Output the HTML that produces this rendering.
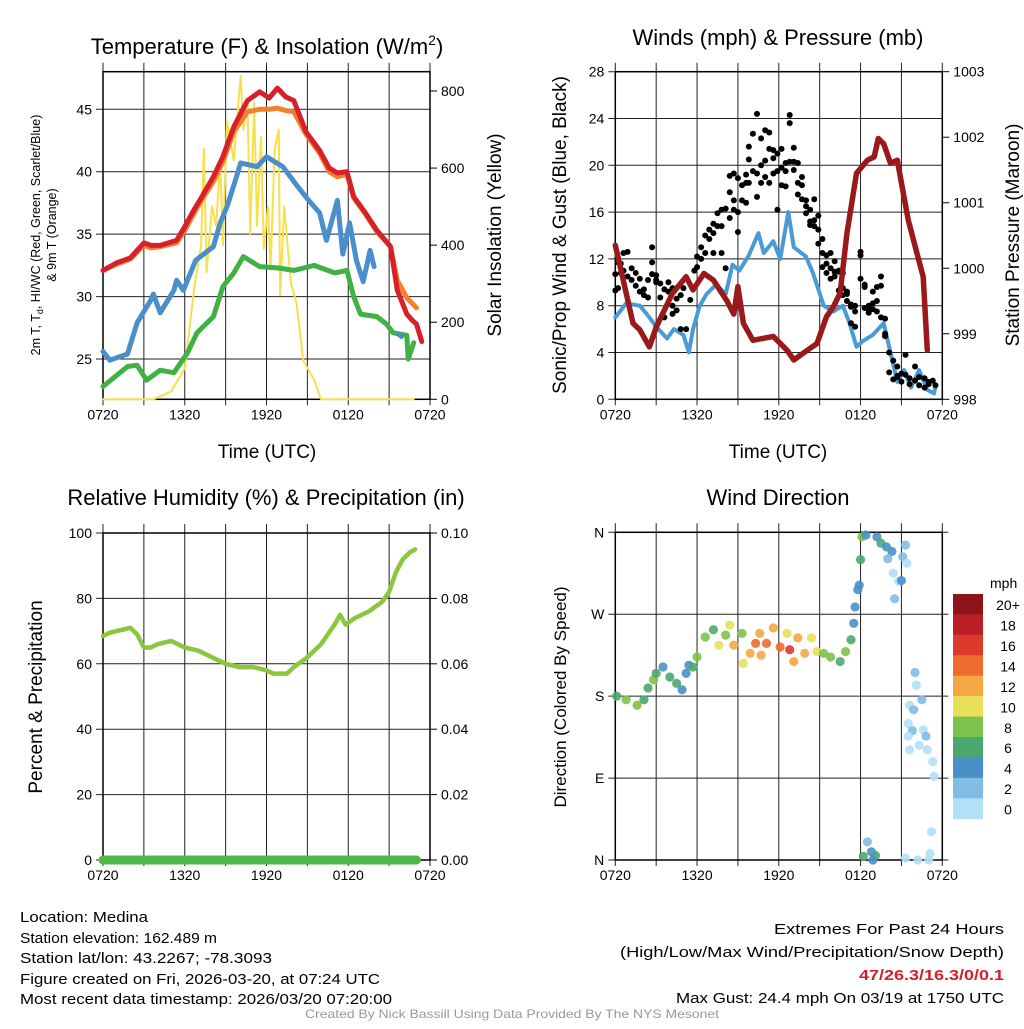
<!DOCTYPE html>
<html><head><meta charset="utf-8"><style>
html,body{margin:0;padding:0;background:#fff;}
svg text{font-family:"Liberation Sans",sans-serif;fill:#000;}
</style></head><body>
<svg id="chart" width="1024" height="1024" viewBox="0 0 1024 1024" xmlns="http://www.w3.org/2000/svg">
<g id="layer"></g>
<text x="267" y="54" font-size="22" text-anchor="middle">Temperature (F) &amp; Insolation (W/m<tspan dy="-9" font-size="14">2</tspan><tspan dy="9">)</tspan></text>
<text x="778" y="45" font-size="22" text-anchor="middle">Winds (mph) &amp; Pressure (mb)</text>
<text x="266" y="505" font-size="22" text-anchor="middle">Relative Humidity (%) &amp; Precipitation (in)</text>
<text x="778" y="505" font-size="22" text-anchor="middle">Wind Direction</text>
<text transform="translate(40,235) rotate(-90)" font-size="12.5" text-anchor="middle">2m T, T<tspan dy="3" font-size="9">d</tspan><tspan dy="-3">, HI/WC (Red, Green, Scarlet/Blue)</tspan></text>
<text transform="translate(56,235) rotate(-90)" font-size="12.5" text-anchor="middle">&amp; 9m T (Orange)</text>
<text transform="translate(501,235) rotate(-90)" font-size="19" text-anchor="middle">Solar Insolation (Yellow)</text>
<text x="267" y="458" font-size="19" text-anchor="middle">Time (UTC)</text>
<text transform="translate(566,235) rotate(-90)" font-size="19" text-anchor="middle">Sonic/Prop Wind &amp; Gust (Blue, Black)</text>
<text transform="translate(1019,235) rotate(-90)" font-size="19" text-anchor="middle">Station Pressure (Maroon)</text>
<text x="778" y="458" font-size="19" text-anchor="middle">Time (UTC)</text>
<text transform="translate(42,697) rotate(-90)" font-size="19" text-anchor="middle">Percent &amp; Precipitation</text>
<text transform="translate(566,697) rotate(-90)" font-size="17" text-anchor="middle">Direction (Colored By Speed)</text>
<text x="990" y="588" font-size="14">mph</text>
<g font-size="15">
<text x="20" y="922" textLength="128" lengthAdjust="spacingAndGlyphs">Location: Medina</text>
<text x="20" y="943" textLength="197" lengthAdjust="spacingAndGlyphs">Station elevation: 162.489 m</text>
<text x="20" y="963" textLength="252" lengthAdjust="spacingAndGlyphs">Station lat/lon: 43.2267; -78.3093</text>
<text x="20" y="984" textLength="360" lengthAdjust="spacingAndGlyphs">Figure created on Fri, 2026-03-20, at 07:24 UTC</text>
<text x="20" y="1004" textLength="372" lengthAdjust="spacingAndGlyphs">Most recent data timestamp: 2026/03/20 07:20:00</text>
</g>
<g font-size="15">
<text x="1004" y="934" text-anchor="end" textLength="230" lengthAdjust="spacingAndGlyphs">Extremes For Past 24 Hours</text>
<text x="1004" y="957" text-anchor="end" textLength="384" lengthAdjust="spacingAndGlyphs">(High/Low/Max Wind/Precipitation/Snow Depth)</text>
<text x="1004" y="980" text-anchor="end" font-weight="bold" style="fill:#d0212b" textLength="145" lengthAdjust="spacingAndGlyphs">47/26.3/16.3/0/0.1</text>
<text x="1004" y="1003" text-anchor="end" textLength="328" lengthAdjust="spacingAndGlyphs">Max Gust: 24.4 mph On 03/19 at 1750 UTC</text>
</g>
<text x="512" y="1018" font-size="12" text-anchor="middle" style="fill:#999" textLength="414" lengthAdjust="spacingAndGlyphs">Created By Nick Bassill Using Data Provided By The NYS Mesonet</text>
</svg>
<script>
// ---------- data ----------
const timeTicks = ["0720","1320","1920","0120","0720"];
const redHours = [0,1,2,3,3.5,4.2,5.4,6,6.6,7.1,8.1,8.8,9.6,10.6,11.5,12.2,12.8,13.4,14,14.9,15.9,16.6,17.2,17.9,18.4,19.2,20.1,21.1,21.6,22.3,22.7,23.0,23.4];
const redTemps = [32.1,32.7,33.1,34.3,34.1,34.1,34.5,35.6,36.8,37.7,39.6,41.2,43.6,45.7,46.4,45.9,46.7,46.0,45.7,43.2,41.7,40.3,39.9,40.0,38.0,36.8,35.3,34.0,30.5,28.6,28.1,27.8,26.4];
const orangeHours = [0,1,2,3,3.5,4.2,5.4,6,6.6,7.1,8.1,8.8,9.6,10.6,11.5,12.2,12.8,13.4,14,14.9,15.9,16.6,17.2,17.9,18.4,19.2,20.1,21.1,21.6,22.3,23.0];
const orangeTemps = [32.1,32.6,33.0,34.1,33.9,34.0,34.3,35.3,36.5,37.5,39.2,40.8,43.2,44.8,45.0,45.0,45.1,44.9,44.8,43.0,41.5,40.0,39.6,39.8,37.9,36.7,35.2,34.0,31.3,29.9,29.1];
const dewHours = [0,0.5,1.8,2.5,3.5,3.7,4.2,5.2,5.4,5.9,6.8,8.1,8.6,9.1,9.8,10.1,11.3,12.0,13.2,14.3,15.1,15.9,16.4,16.8,17.2,17.6,18.1,18.6,19.1,19.6,19.9];
const dewTemps = [25.6,24.9,25.4,27.9,29.7,30.2,28.7,30.5,31.3,30.5,32.9,34.0,35.9,37.2,39.6,40.7,40.4,41.2,40.4,38.8,37.7,36.7,34.5,36.1,37.7,33.4,35.9,32.9,31.2,33.7,32.4];
const dewHours2 = [21.7,21.9];
const dewTemps2 = [27.0,26.8];
const greenHours = [0,1.8,2.5,3.2,4.2,5.2,6.2,6.9,8.1,8.8,9.6,10.3,11.5,12.8,14,15.5,17.0,17.9,18.4,18.9,20.1,20.8,21.3,22.3,22.4,22.8];
const greenTemps = [22.8,24.4,24.5,23.3,24.1,23.9,25.5,27.1,28.4,30.8,31.9,33.2,32.4,32.3,32.1,32.5,31.9,32.1,30.0,28.6,28.4,27.8,27.1,26.9,25.0,26.3];
const solarHours = [0,3.7,5.0,6.0,6.7,7.2,7.4,7.6,8.0,8.3,8.6,8.8,9.1,9.6,10.1,10.3,10.6,10.8,11.1,11.3,11.6,11.8,12.1,12.3,12.6,12.9,13.0,13.3,13.8,14.2,14.7,15.5,16.0,22.8];
const solarWm2 = [0,0,20,80,290,400,650,330,500,450,620,400,720,620,840,700,780,430,770,450,680,390,500,340,650,700,270,500,300,250,100,50,0,0];
// winds
const windHours = [0,0.8,1.8,2.5,3.0,3.8,4.3,5.0,5.4,5.7,6.2,6.7,7.4,8.1,8.6,9.1,9.8,10.5,10.9,11.6,12.1,12.7,13.1,14.0,14.5,15.3,16.0,16.7,17.2,17.7,18.2,18.9,19.7,20.2,20.7,21.2,21.7,22.3,22.9,23.4,23.5];
const windMph = [7.0,8.2,8.0,7.0,6.2,5.2,6.0,5.5,4.0,6.0,8.0,9.0,9.8,9.0,11.5,11.0,12.3,14.2,12.5,13.5,12.0,16.0,13.0,12.2,10.8,8.0,7.5,8.0,6.5,4.5,5.0,5.5,6.5,4.0,1.5,2.5,1.0,2.5,0.8,0.5,1.2];
const presHours = [0,0.8,1.3,1.8,2.5,3.0,4.2,5.2,5.7,6.5,7.2,8.2,8.7,9.0,9.4,10.1,11.6,12.6,13.1,14.1,14.8,15.5,16.0,16.5,17.0,17.7,18.5,19.0,19.3,19.7,20.2,20.7,21.5,22.2,22.6,22.9];
const presMb = [1000.35,999.62,999.16,999.06,998.8,999.1,999.62,999.87,999.67,999.92,999.82,999.5,999.3,999.72,999.16,998.9,998.96,998.75,998.6,998.75,998.85,999.26,999.41,999.62,1000.53,1001.45,1001.65,1001.7,1001.98,1001.9,1001.6,1001.65,1000.74,1000.18,999.87,998.75];
const gustHours = [0,0.2,0.4,0.6,0.9,1.2,1.5,1.8,2.1,2.4,2.7,3.0,3.3,3.6,3.9,4.2,4.5,4.8,5.0,5.2,5.5,5.8,6.0,6.3,6.6,6.9,7.2,7.5,7.8,8.1,8.4,8.7,9.0,9.3,9.6,9.8,10.1,10.4,10.7,11.0,11.3,11.6,11.9,12.2,12.5,12.8,13.1,13.4,13.7,14.0,14.3,14.6,14.9,15.2,15.5,15.8,16.1,16.4,16.7,17.0,17.3,17.6,18.0,18.3,18.6,18.9,19.2,19.5,19.8,20.1,20.4,20.7,21.0,21.3,21.6,22.0,22.3,22.7,23.0,23.3,23.5];
const gustMph = [[9.3,10.7],[9.5,11.7],[10.8,11.6],[12.5,11.0],[12.6,10.5],[11.2,10.2],[10.8,9.7],[10.3,9.2],[8.9,9.4],[8.7,10.2],[13.0,11.7,10.7],[10.2,10.0,10.6],[9.9,8.7],[7.0,9.4],[10.0,9.2],[8.0,9.5,7.3],[8.6,7.6],[6.0,8.9],[9.5],[6.0],[8.5],[11.0],[11.3,12.2],[12.0,13.0],[14.0,12.5],[14.5,13.7],[15.0,14.2,12.5],[15.9,14.8],[16.2,12.5,14.8],[16.3,11.2],[17.7,19.1,15.5],[19.3,16.2,17.0],[16.0,14.3,18.9],[17.0,18.3],[19.2,16.8,18.5],[21.6,20.5,18.5],[22.7,19.5],[24.4,19.3,17.3],[20.0,18.5,22.3],[23.0,20.4,19.0],[22.8,21.4,18.5],[20.6,19.3,21.3],[21.0,16.2,19.5],[21.4,19.8,18.3],[20.2,19.5,18.2],[24.3,23.6,20.3],[21.5,19.6,20.3],[18.5,17.5,20.2],[19.0,17.1,18.3],[15.9,17.0,16.5],[14.9,16.2,15.2],[17.1,15.3,14.8],[13.3,15.7,14.5],[12.5,13.7,11.3],[12.3,10.8,11.6],[12.5,10.3,11.2],[10.9,11.8,10.5],[10.9,9.3,11.0],[9.5,8.9,10.8],[9.2,8.4,9.0],[6.5,8.1,7.9],[8.0,7.5,6.2],[12.6,12.3,10.3],[9.6,9.8,7.8],[7.6,7.4,8.0],[7.7,8.2,9.2],[8.4,9.6,7.5],[10.5,9.7,7.0],[6.9,5.6,5.4],[4.0,2.3],[1.7,3.3],[2.0,1.9,2.8],[2.2,1.5],[3.8,2.1],[1.8,1.3],[2.8,1.6],[1.9,1.2],[1.8,1.0],[1.5,1.3],[1.6],[1.2]];
// RH & precip
const rhHours = [0,0.5,1,1.5,2,2.5,3,3.5,4,5,5.5,6,7,8,9,10,11,12,12.5,13,13.5,14,15,16,17,17.4,17.8,18.5,19.5,20.5,21,21.5,22,22.5,22.9];
const rhPct = [68.5,69.5,70,70.5,71,69,65,65,66,67,66,65,64,62,60,59,59,58,57,57,57,59,62,66,72,75,72,74,76,79,82,88,92,94,95];
const precipHours = [0,23];
const precipIn = [0,0];
// wind direction
const dirHours = [0.1,0.8,1.6,2.1,2.4,2.8,3.0,3.5,4.0,4.5,4.9,5.2,5.4,5.7,6.0,6.6,7.2,7.6,8.1,8.4,8.7,9.3,9.4,9.9,10.3,10.6,10.7,11.1,11.6,12.1,12.6,12.8,13.1,13.4,13.9,14.4,14.8,15.3,15.8,16.5,16.9,17.3,17.5,17.6,17.8,17.9,18.0,18.1,18.4,19.2,19.5,19.9,20.3,20.0,20.4,20.8,21.0,20.5,21.1,21.3,21.4,18.2,18.5,18.8,19.1,18.9,22.0,22.1,21.6,21.9,22.5,21.5,21.8,21.5,22.3,22.6,22.8,21.6,22.9,23.3,23.4,23.2,23.1,21.3,22.2,23.0];
const dirDeg = [180,176,170,176,189,198,205,212,201,194,187,205,214,212,223,245,253,236,247,258,236,249,216,227,238,249,225,238,255,234,249,231,218,244,227,244,229,227,223,218,229,242,260,278,297,302,330,355,357,355,348,344,339,331,315,306,307,287,333,346,326,4,20,9,5,0,206,192,170,165,176,150,142,136,126,143,136,121,121,108,92,31,7,2,0,0];
const dirSpeed = [7,8,8,7.5,7,8.5,6.5,4.5,6.5,6,4.5,5,4.5,6,8,8.5,7.5,10.5,8,10,12.5,8,10.5,12.5,14,13,12,15,12.5,15,11,16.5,12.5,13,13,10,10.5,8.5,8,6.5,8,7.5,4.5,4.5,4.5,4.5,6.5,8,4.5,4.5,6.5,4.5,4.5,3.5,1,1.5,4,2.5,3.5,3,1,7,3,4,6.5,4,2.5,1,1,3,3,1,2.5,1,1,1,2.5,1,1,1,1,1,1,1,1,1];
const barLabels = ["20+","18","16","14","12","10","8","6","4","2","0"];
const barColors = ["#8e1418","#bd1f27","#dc3a2b","#ef6a2f","#f5a742","#e8e05a","#7dc24b","#4aa86f","#4a90c8","#80bce4","#b3e0f7"];

// ---------- drawing ----------
const NS="http://www.w3.org/2000/svg";
const layer=document.getElementById('layer');
function mk(tag,attrs,parent){const e=document.createElementNS(NS,tag);for(const k in attrs)e.setAttribute(k,attrs[k]);(parent||layer).appendChild(e);return e;}
function lin(d0,d1,r0,r1){return v=>r0+(v-d0)*(r1-r0)/(d1-d0);}
function path(xs,ys,sx,sy){return xs.map((h,i)=>(i?'L':'M')+sx(h).toFixed(1)+','+sy(ys[i]).toFixed(1)).join('');}

function frame(name,L,R,T,B,yticks,ysc,ylabels,rticks,rsc,rlabels){
  const g=mk('g',{});
  
  
  const sx=lin(0,24,L,R);
  for(let i=0;i<=8;i++){const x=sx(i*3);
    const l=mk('line',{x1:x,x2:x,y1:T-9,y2:B+6,stroke:'#222','stroke-width':1},g);
    }
  timeTicks.forEach((t,i)=>{const tx=mk('text',{x:sx(i*6),y:B+20,'font-size':14,'text-anchor':'middle'},g);tx.textContent=t;
    });
  yticks.forEach((v,i)=>{const y=ysc(v);
    const l=mk('line',{x1:L-7,x2:R+(rticks?0:6),y1:y,y2:y,stroke:'#222','stroke-width':1},g);
    
    const tx=mk('text',{x:L-11,y:y+5,'font-size':14,'text-anchor':'end'},g);tx.textContent=ylabels[i];
    });
  if(rticks) rticks.forEach((v,i)=>{const y=rsc(v);
    mk('line',{x1:R,x2:R+7,y1:y,y2:y,stroke:'#000','stroke-width':1},g);
    const tx=mk('text',{x:R+11,y:y+5,'font-size':14},g);tx.textContent=rlabels[i];
    });
  const b=mk('rect',{x:L,y:T,width:R-L,height:B-T,fill:'none',stroke:'#000','stroke-width':1.5},g);
  
  return sx;
}
function addLine(d,color,w,name){const p=mk('path',{d:d,fill:'none',stroke:color,'stroke-width':w,'stroke-linejoin':'round','stroke-linecap':'round'});
  return p;}

// Panel 1
{
 const L=103,R=430,T=71.7,B=399.3;
 const sy=lin(25,45,359,109.3), sr=lin(0,800,399.3,91);
 const sx=frame('temperature-panel',L,R,T,B,[25,30,35,40,45],sy,["25","30","35","40","45"],[0,200,400,600,800],sr,["0","200","400","600","800"]);
 addLine(path(solarHours,solarWm2,sx,sr),'#f7e04a',2,'insolation-line');
 addLine(path(greenHours,greenTemps,sx,sy),'#3fb243',5,'dewpoint-line');
 addLine(path(dewHours,dewTemps,sx,sy),'#4a8fcb',5,'heat-index-windchill-line');
 addLine(path(dewHours2,dewTemps2,sx,sy),'#4a8fcb',5,'heat-index-windchill-line-2');
 addLine(path(orangeHours,orangeTemps,sx,sy),'#f2802e',5,'temp-9m-line');
 addLine(path(redHours,redTemps,sx,sy),'#d7202a',5,'temp-2m-line');
}
// Panel 2
{
 const L=615.3,R=942.3,T=71.7,B=399.3;
 const sy=lin(0,28,B,T), sr=lin(998,1003,B,T);
 const sx=frame('wind-panel',L,R,T,B,[0,4,8,12,16,20,24,28],sy,["0","4","8","12","16","20","24","28"],[998,999,1000,1001,1002,1003],sr,["998","999","1000","1001","1002","1003"]);
 addLine(path(windHours,windMph,sx,sy),'#4a9ad6',4,'wind-speed-line');
 gustHours.forEach((h,i)=>gustMph[i].forEach(v=>{
   const c=mk('circle',{cx:sx(h),cy:sy(v),r:3,fill:'#000'});
   
   }));
 addLine(path(presHours,presMb,sx,sr),'#9a1a1c',5.5,'pressure-line');
}
// Panel 3
{
 const L=103,R=430,T=533,B=860;
 const sy=lin(0,100,B,T), sr=lin(0,0.1,B,T);
 const sx=frame('humidity-panel',L,R,T,B,[0,20,40,60,80,100],sy,["0","20","40","60","80","100"],[0,0.02,0.04,0.06,0.08,0.1],sr,["0.00","0.02","0.04","0.06","0.08","0.10"]);
 addLine(path(rhHours,rhPct,sx,sy),'#8cc63f',4.5,'rh-line');
 addLine(path(precipHours,precipIn,sx,sr),'#4db848',9,'precip-line');
}
// Panel 4
{
 const L=615.3,R=942.3,T=532.3,B=860;
 const sy=lin(0,360,B,T);
 const sx=frame('direction-panel',L,R,T,B,[0,90,180,270,360],sy,["N","E","S","W","N"]);
 dirHours.forEach((h,i)=>{
   const bin=Math.min(10,Math.floor(dirSpeed[i]/2));
   const c=mk('circle',{cx:sx(h),cy:sy(dirDeg[i]),r:4.6,fill:barColors[10-bin],'fill-opacity':0.9});
   
   });
 const cg=mk('g',{});
 
 
 const top=594,h=20.43;
 barLabels.forEach((lab,i)=>{
   const r=mk('rect',{x:953,y:top+i*h,width:30,height:h+0.5,fill:barColors[i]},cg);
   
   
   const t=mk('text',{x:1008,y:top+i*h+h/2+6,'font-size':14,'text-anchor':'middle'},cg);t.textContent=lab;
   
   });
}
</script>
</body></html>
